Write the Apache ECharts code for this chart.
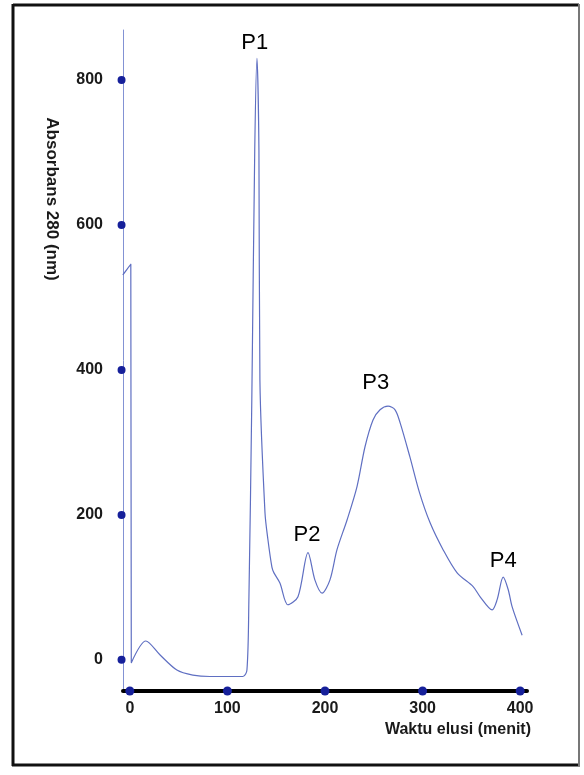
<!DOCTYPE html>
<html><head><meta charset="utf-8">
<script src="https://cdn.jsdelivr.net/npm/echarts@6/dist/echarts.min.js"></script>
<style>html,body{margin:0;padding:0;background:#fff}#c{width:584px;height:775px}</style>
</head><body><div id="c"></div>
<script>
// Elution time (menit) and absorbance 280 values
const timeMin = [-7.2, 1.0, 1.5, 16.4, 30.8, 48.2, 64.6, 82.1, 115.9, 120, 122, 125, 128, 130.3, 132.3, 133.3, 138.5, 141.5, 145.6, 147.7, 153.8, 162, 172.3, 182.6, 189.7, 197, 205, 212.3, 222.6, 232.8, 241, 249.2, 256.4, 264.6, 271.8, 277, 287, 297, 307.7, 321, 335.4, 351.8, 359, 371.3, 376.4, 382.6, 387.7, 391.8, 402];
const absorbance = [531, 546, -4, 26, 7, -14, -21, -23, -23, -14, 83, 359, 703, 830, 703, 386, 203, 166, 128, 120, 106, 76, 87, 148, 110, 92, 110, 152, 193, 239, 294, 331, 345, 350, 345, 327, 280, 230, 189, 152, 120, 101, 87, 69, 83, 114, 97, 73, 34];
const xTicks = [0, 100, 200, 300, 400];
const yTicks = [0, 200, 400, 600, 800];
const peakNames = ['P1', 'P2', 'P3', 'P4'];
const peakX = [128, 181.5, 252, 382.6];
const peakY = [851, 172, 382, 137];

const FONT = '"Liberation Sans", Arial, sans-serif';
const chart = echarts.init(document.getElementById('c'), null, {renderer: 'canvas'});
const curve = timeMin.map((t, i) => [t, absorbance[i]]);
const X_MIN = -7, X_MAX = 407, Y_MIN = -43, Y_MAX = 869;

chart.setOption({
  animation: false,
  backgroundColor: '#fff',
  grid: {left: 123, right: 57, top: 30, bottom: 84},
  xAxis: {
    type: 'value', min: X_MIN, max: X_MAX,
    axisLine: {show: true, onZero: false, lineStyle: {color: '#000', width: 4}},
    axisTick: {show: false},
    splitLine: {show: false},
    axisLabel: {customValues: xTicks, margin: 10, color: '#1a1a1a', fontWeight: 'bold', fontSize: 16, fontFamily: FONT},
    name: 'Waktu elusi (menit)', nameLocation: 'end', nameGap: 4,
    nameTextStyle: {align: 'right', verticalAlign: 'top', padding: [31, 0, 0, 0], color: '#1a1a1a', fontWeight: 'bold', fontSize: 16, fontFamily: FONT}
  },
  yAxis: {
    type: 'value', min: Y_MIN, max: Y_MAX,
    axisLine: {show: true, onZero: false, lineStyle: {color: '#8392d4', width: 1}},
    axisTick: {show: false},
    splitLine: {show: false},
    axisLabel: {customValues: yTicks, margin: 20, color: '#1a1a1a', fontWeight: 'bold', fontSize: 16, fontFamily: FONT}
  },
  graphic: [
    {type: 'text', x: 52, y: 199, rotation: -Math.PI / 2,
     style: {text: 'Absorbans 280 (nm)', fill: '#1a1a1a', font: 'bold 17px ' + FONT, align: 'center', verticalAlign: 'middle'}},
    {type: 'line', shape: {x1: 13, y1: 5, x2: 579, y2: 5}, style: {stroke: '#111', lineWidth: 3}},
    {type: 'line', shape: {x1: 13, y1: 4, x2: 13, y2: 766}, style: {stroke: '#111', lineWidth: 3}},
    {type: 'line', shape: {x1: 12, y1: 765, x2: 580, y2: 765}, style: {stroke: '#111', lineWidth: 3}},
    {type: 'line', shape: {x1: 579, y1: 4, x2: 579, y2: 766}, style: {stroke: '#777', lineWidth: 2}}
  ],
  series: [
    {
      type: 'line', data: curve, showSymbol: false, smooth: 0.3,
      lineStyle: {color: '#5f6fc2', width: 1.2}, z: 3
    },
    {
      type: 'scatter', data: yTicks.map(v => [-8.5, v]), symbolSize: 8, clip: false,
      itemStyle: {color: '#16209a', opacity: 1}, z: 5
    },
    {
      type: 'scatter', data: xTicks.map(v => [v, Y_MIN]), symbolSize: 9, clip: false,
      itemStyle: {color: '#16209a', opacity: 1}, z: 5
    },
    {
      type: 'scatter', symbolSize: 0, clip: false,
      itemStyle: {opacity: 1},
      data: peakNames.map((n, i) => ({name: n, value: [peakX[i], peakY[i]]})),
      label: {show: true, position: 'inside', formatter: '{b}', color: '#000', fontSize: 22, fontFamily: FONT},
      z: 6
    }
  ]
});
</script>
</body></html>
